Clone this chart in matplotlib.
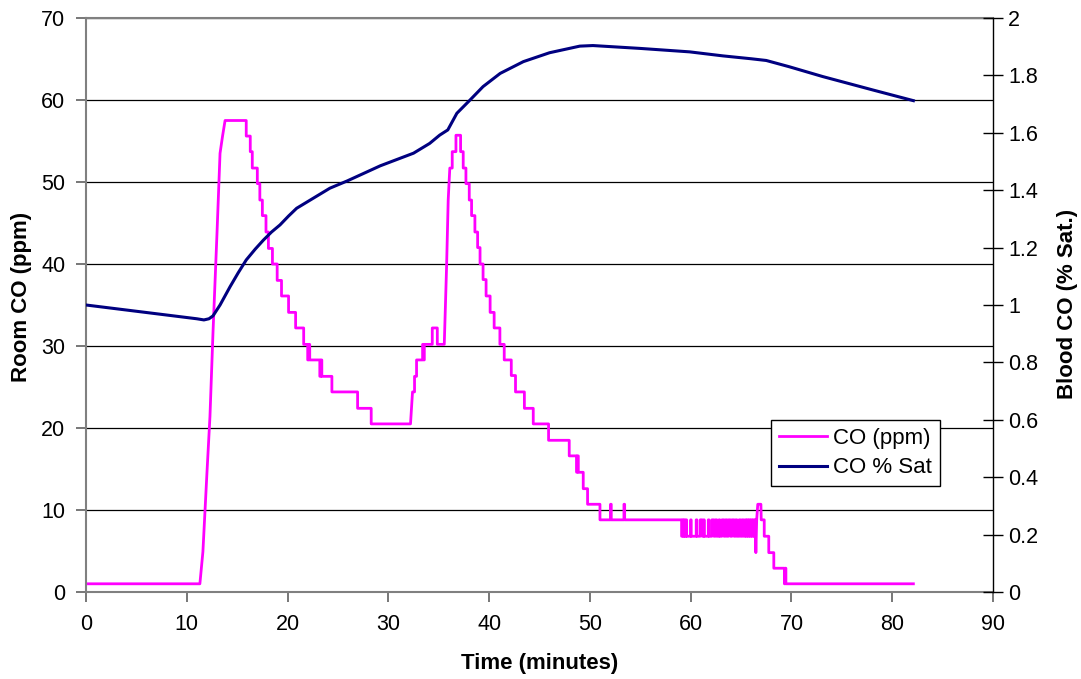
import matplotlib
import matplotlib.pyplot as plt
from matplotlib.ticker import MultipleLocator, FormatStrFormatter

matplotlib.use('Agg')
plt.rcParams['font.family'] = ['Liberation Sans', 'DejaVu Sans']

# room CO (ppm), breakpoints of the logged trace
co_time = [0, 11.3, 11.6, 12.0, 12.3, 12.6, 13.0, 13.3, 13.55, 13.8,
           15.9, 15.9, 16.3, 16.3, 16.5, 16.5, 17.0, 17.0, 17.25, 17.25,
           17.5, 17.5, 17.86, 17.86, 18.1, 18.1, 18.5, 18.5, 18.97, 18.97,
           19.4, 19.4, 20.1, 20.1, 20.8, 20.8, 21.6, 21.6, 22.0, 22.0,
           22.1, 22.1, 22.2, 22.2, 23.2, 23.2, 23.3, 23.3, 23.4, 23.4,
           24.4, 24.4, 26.95, 26.95, 28.3, 28.3, 32.2, 32.3, 32.4, 32.6,
           32.6, 32.8, 32.8, 33.4, 33.4, 33.5, 33.5, 33.57, 33.57, 34.36,
           34.36, 34.86, 34.86, 35.55, 35.78, 35.94, 36.1, 36.34, 36.34, 36.71,
           36.71, 37.17, 37.17, 37.43, 37.43, 37.7, 37.7, 38.03, 38.03, 38.26,
           38.26, 38.59, 38.59, 38.86, 38.86, 39.1, 39.1, 39.4, 39.4, 39.7,
           39.7, 40.1, 40.1, 40.5, 40.5, 41.07, 41.07, 41.5, 41.5, 42.2,
           42.2, 42.62, 42.62, 43.5, 43.5, 44.38, 44.38, 45.9, 45.9, 47.95,
           47.95, 48.68, 48.68, 48.75, 48.75, 48.85, 48.85, 49.34, 49.34, 49.77,
           49.77, 51.0, 51.0, 52.05, 52.05, 52.12, 52.12, 53.38, 53.38, 53.45,
           53.45, 59.1, 59.1, 59.2, 59.2, 59.27, 59.27, 59.36, 59.36, 59.43,
           59.43, 59.55, 59.55, 59.6, 59.6, 60.0, 60.0, 60.05, 60.05, 60.55,
           60.55, 60.62, 60.62, 60.95, 60.95, 61.15, 61.15, 61.3, 61.3, 61.35,
           61.35, 61.75, 61.75, 61.82, 61.82, 62.1, 62.1, 62.3, 62.3, 62.45,
           62.45, 62.6, 62.6, 62.8, 62.8, 62.9, 62.9, 63.1, 63.1, 63.3,
           63.3, 63.45, 63.45, 63.6, 63.6, 63.75, 63.75, 63.95, 63.95, 64.1,
           64.1, 64.3, 64.3, 64.45, 64.45, 64.6, 64.6, 64.8, 64.8, 64.95,
           64.95, 65.1, 65.1, 65.25, 65.25, 65.4, 65.4, 65.5, 65.5, 65.6,
           65.6, 65.7, 65.7, 65.8, 65.8, 65.9, 65.9, 66.0, 66.0, 66.1,
           66.1, 66.2, 66.2, 66.3, 66.3, 66.4, 66.47, 66.55, 66.66, 66.97,
           67.0, 67.3, 67.3, 67.75, 67.75, 68.25, 68.25, 69.3, 69.3, 69.38,
           69.38, 69.45, 69.45, 82.1]
co_ppm = [1.0, 1.0, 4.9, 14.5, 21.4, 31.6, 43.8, 53.5, 55.6, 57.5,
          57.5, 55.6, 55.6, 53.7, 53.7, 51.7, 51.7, 49.8, 49.8, 47.8,
          47.8, 45.9, 45.9, 43.9, 43.9, 41.9, 41.9, 40.0, 40.0, 38.0,
          38.0, 36.1, 36.1, 34.1, 34.1, 32.2, 32.2, 30.2, 30.2, 28.3,
          28.3, 30.2, 30.2, 28.3, 28.3, 26.3, 26.3, 28.3, 28.3, 26.3,
          26.3, 24.4, 24.4, 22.4, 22.4, 20.5, 20.5, 22.4, 24.4, 24.4,
          26.3, 26.3, 28.3, 28.3, 30.2, 30.2, 28.3, 28.3, 30.2, 30.2,
          32.2, 32.2, 30.2, 30.2, 39.7, 47.8, 51.7, 51.7, 53.7, 53.7,
          55.7, 55.7, 53.7, 53.7, 51.7, 51.7, 49.8, 49.8, 47.8, 47.8,
          45.9, 45.9, 43.9, 43.9, 42.0, 42.0, 40.0, 40.0, 38.1, 38.1,
          36.1, 36.1, 34.1, 34.1, 32.2, 32.2, 30.2, 30.2, 28.3, 28.3,
          26.4, 26.4, 24.4, 24.4, 22.4, 22.4, 20.5, 20.5, 18.5, 18.5,
          16.6, 16.6, 14.6, 14.6, 16.6, 16.6, 14.6, 14.6, 12.6, 12.6,
          10.7, 10.7, 8.8, 8.8, 10.7, 10.7, 8.8, 8.8, 10.7, 10.7,
          8.8, 8.8, 6.8, 6.8, 8.8, 8.8, 6.8, 6.8, 8.8, 8.8,
          6.8, 6.8, 8.8, 8.8, 6.8, 6.8, 8.8, 8.8, 6.8, 6.8,
          8.8, 8.8, 6.8, 6.8, 8.8, 8.8, 6.8, 6.8, 8.8, 8.8,
          6.8, 6.8, 8.8, 8.8, 6.8, 6.8, 8.8, 8.8, 6.8, 6.8,
          8.8, 8.8, 6.8, 6.8, 8.8, 8.8, 6.8, 6.8, 8.8, 8.8,
          6.8, 6.8, 8.8, 8.8, 6.8, 6.8, 8.8, 8.8, 6.8, 6.8,
          8.8, 8.8, 6.8, 6.8, 8.8, 8.8, 6.8, 6.8, 8.8, 8.8,
          6.8, 6.8, 8.8, 8.8, 6.8, 6.8, 8.8, 8.8, 6.8, 6.8,
          8.8, 8.8, 6.8, 6.8, 8.8, 8.8, 6.8, 6.8, 8.8, 8.8,
          6.8, 6.8, 8.8, 8.8, 6.8, 8.8, 4.8, 8.8, 10.7, 10.7,
          8.8, 8.8, 6.8, 6.8, 4.8, 4.8, 2.9, 2.9, 1.0, 1.0,
          2.9, 2.9, 1.0, 1.0]

# blood CO (% saturation)
sat_time = [0, 11.0, 11.7, 12.2, 12.6, 13.3, 14.3, 15.1, 15.9, 16.8, 17.6,
            18.4, 19.25, 20.1, 20.9, 22.55, 24.2, 25.9, 29.2, 32.5, 34.1,
            35.1, 35.9, 36.8, 38.1, 39.4, 41.1, 43.4, 46.0, 49.0, 50.3,
            55.0, 59.9, 63.2, 66.0, 67.5, 69.8, 73.1, 78.1, 82.1]
sat_pct = [1.0, 0.952, 0.948, 0.952, 0.962, 1.0, 1.064, 1.112, 1.157, 1.195, 1.226,
           1.254, 1.279, 1.31, 1.337, 1.372, 1.407, 1.432, 1.485, 1.529, 1.563,
           1.592, 1.61, 1.668, 1.714, 1.761, 1.807, 1.848, 1.879, 1.902, 1.904,
           1.894, 1.882, 1.868, 1.858, 1.852, 1.83, 1.796, 1.749, 1.712]

fig = plt.figure(figsize=(10.81, 6.79), dpi=100)
ax = fig.add_axes([86 / 1081, 87 / 679, 907 / 1081, 574 / 679])
ax2 = ax.twinx()

ax.plot(co_time, co_ppm, color='#FF00FF', lw=2.0, label='CO (ppm)')
ax2.plot(sat_time, sat_pct, color='#000080', lw=2.2, label='CO % Sat')

ax.set_xlim(0, 90)
ax.set_ylim(0, 70)
ax2.set_ylim(0, 2)
ax.xaxis.set_major_locator(MultipleLocator(10))
ax.yaxis.set_major_locator(MultipleLocator(10))
ax2.yaxis.set_major_locator(MultipleLocator(0.2))
ax2.yaxis.set_major_formatter(FormatStrFormatter('%g'))

ax.grid(axis='y', color='black', lw=0.9)
ax.set_axisbelow(True)

for s in ['left', 'bottom', 'top']:
    ax.spines[s].set_color('#808080')
    ax.spines[s].set_linewidth(1.5)
for s in ['left', 'bottom', 'top']:
    ax2.spines[s].set_visible(False)
ax.spines['right'].set_visible(False)
ax2.spines['right'].set_color('black')
ax2.spines['right'].set_linewidth(1.0)

ax.tick_params(axis='x', direction='out', length=7, width=1.2, color='#606060', pad=9, labelsize=15.5)
ax.tick_params(axis='y', direction='out', length=7, width=1.2, color='#606060', pad=8, labelsize=15.5)
ax2.tick_params(axis='y', direction='inout', length=14, width=1.0, color='black', pad=4, labelsize=15.5)

fig.text(22 / 1081, 1 - 297 / 679, 'Room CO (ppm)', rotation=90, ha='center', va='center',
         fontsize=16, fontweight='bold')
fig.text(1068 / 1081, 1 - 304 / 679, 'Blood CO (% Sat.)', rotation=90, ha='center', va='center',
         fontsize=16, fontweight='bold')
fig.text(540 / 1081, 1 - 663 / 679, 'Time (minutes)', ha='center', va='center',
         fontsize=16, fontweight='bold')

h1, l1 = ax.get_legend_handles_labels()
h2, l2 = ax2.get_legend_handles_labels()
leg = ax2.legend(h1 + h2, l1 + l2, loc='upper left', bbox_to_anchor=(0.755, 0.30),
                 borderaxespad=0, fontsize=16, fancybox=False, framealpha=1,
                 edgecolor='black', handlelength=2.2, handletextpad=0.25,
                 borderpad=0.35, labelspacing=0.4)
leg.get_frame().set_linewidth(1.0)

fig.savefig('out.png', dpi=100)
